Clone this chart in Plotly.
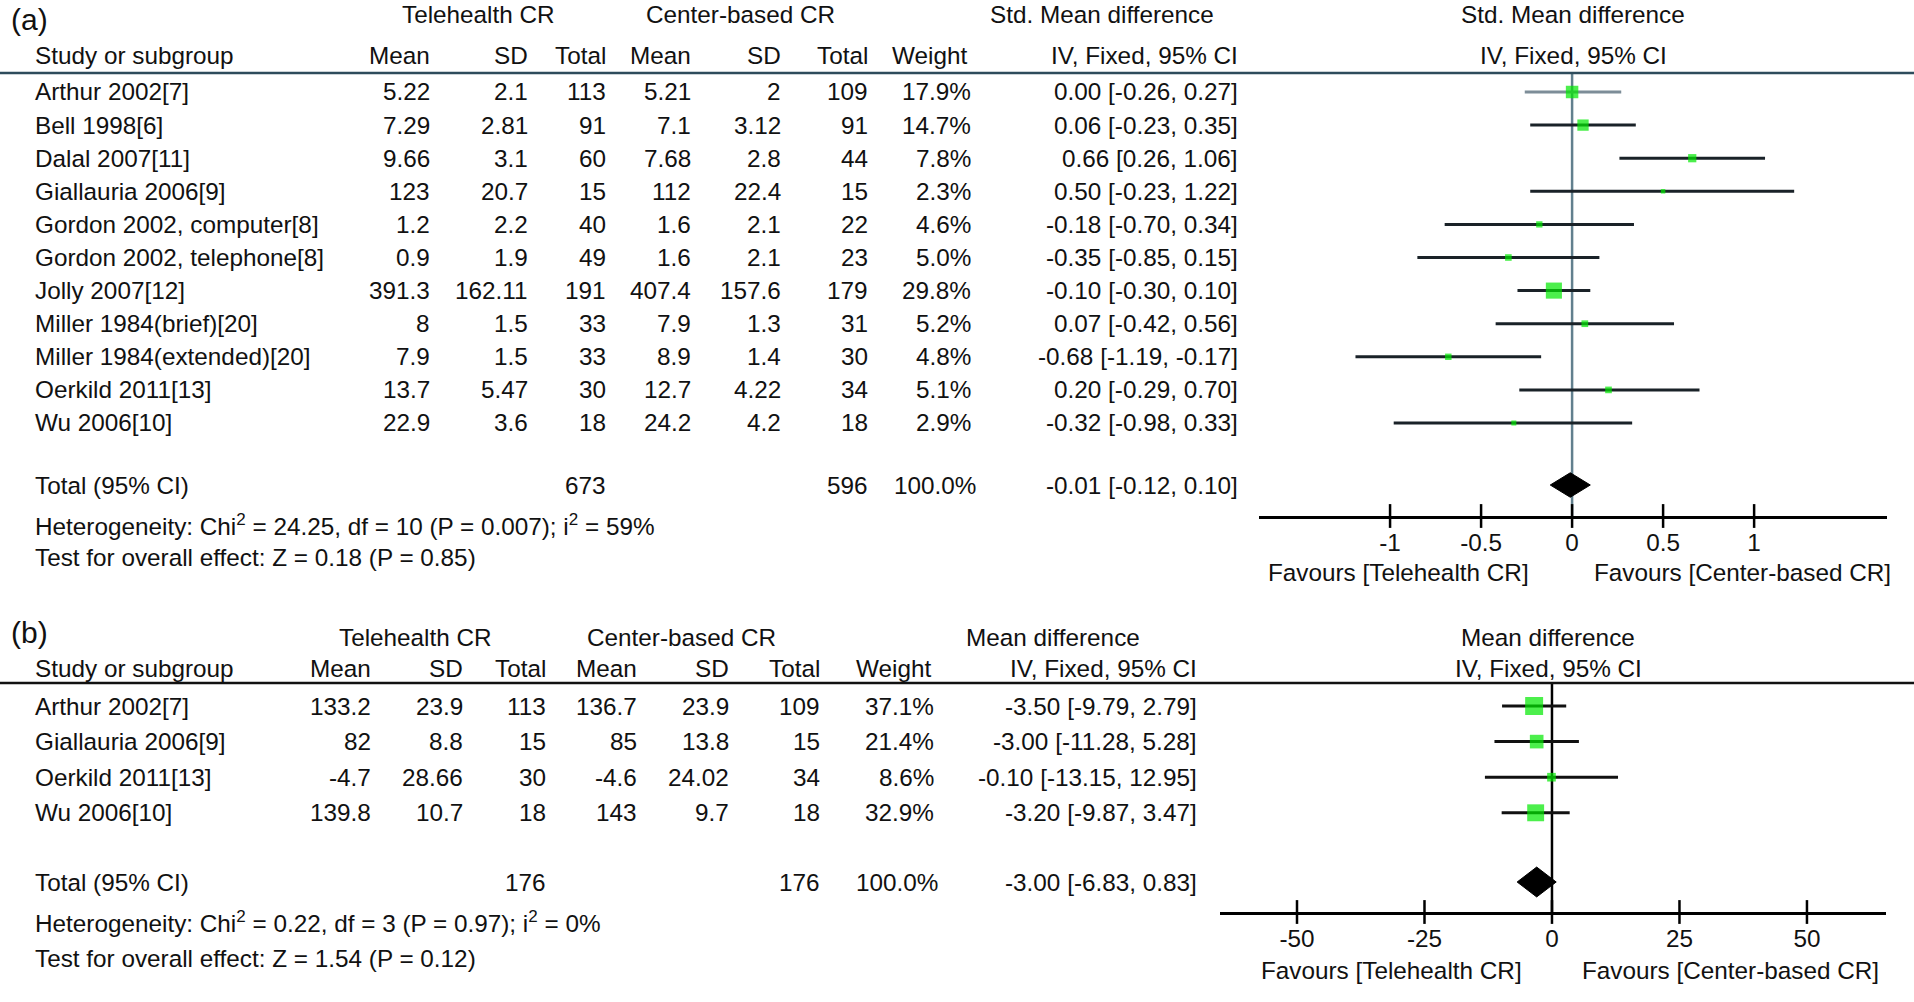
import math
import plotly.graph_objects as go

# ---------------- data: panel (a) ----------------
studies_a = ["Arthur 2002[7]", "Bell 1998[6]", "Dalal 2007[11]", "Giallauria 2006[9]",
             "Gordon 2002, computer[8]", "Gordon 2002, telephone[8]", "Jolly 2007[12]",
             "Miller 1984(brief)[20]", "Miller 1984(extended)[20]", "Oerkild 2011[13]", "Wu 2006[10]"]
tele_mean_a = [5.22, 7.29, 9.66, 123, 1.2, 0.9, 391.3, 8, 7.9, 13.7, 22.9]
tele_sd_a = [2.1, 2.81, 3.1, 20.7, 2.2, 1.9, 162.11, 1.5, 1.5, 5.47, 3.6]
tele_n_a = [113, 91, 60, 15, 40, 49, 191, 33, 33, 30, 18]
cb_mean_a = [5.21, 7.1, 7.68, 112, 1.6, 1.6, 407.4, 7.9, 8.9, 12.7, 24.2]
cb_sd_a = [2, 3.12, 2.8, 22.4, 2.1, 2.1, 157.6, 1.3, 1.4, 4.22, 4.2]
cb_n_a = [109, 91, 44, 15, 22, 23, 179, 31, 30, 34, 18]
weight_a = [17.9, 14.7, 7.8, 2.3, 4.6, 5.0, 29.8, 5.2, 4.8, 5.1, 2.9]
est_a = [0.00, 0.06, 0.66, 0.50, -0.18, -0.35, -0.10, 0.07, -0.68, 0.20, -0.32]
lo_a = [-0.26, -0.23, 0.26, -0.23, -0.70, -0.85, -0.30, -0.42, -1.19, -0.29, -0.98]
hi_a = [0.27, 0.35, 1.06, 1.22, 0.34, 0.15, 0.10, 0.56, -0.17, 0.70, 0.33]
total_tele_a, total_cb_a, total_weight_a = 673, 596, 100.0
total_est_a, total_lo_a, total_hi_a = -0.01, -0.12, 0.10
het_a = "Heterogeneity: Chi<sup>2</sup> = 24.25, df = 10 (P = 0.007); i<sup>2</sup> = 59%"
test_a = "Test for overall effect: Z = 0.18 (P = 0.85)"
ticks_a = [-1, -0.5, 0, 0.5, 1]
ticklabels_a = ["-1", "-0.5", "0", "0.5", "1"]

# ---------------- data: panel (b) ----------------
studies_b = ["Arthur 2002[7]", "Giallauria 2006[9]", "Oerkild 2011[13]", "Wu 2006[10]"]
tele_mean_b = [133.2, 82, -4.7, 139.8]
tele_sd_b = [23.9, 8.8, 28.66, 10.7]
tele_n_b = [113, 15, 30, 18]
cb_mean_b = [136.7, 85, -4.6, 143]
cb_sd_b = [23.9, 13.8, 24.02, 9.7]
cb_n_b = [109, 15, 34, 18]
weight_b = [37.1, 21.4, 8.6, 32.9]
est_b = [-3.50, -3.00, -0.10, -3.20]
lo_b = [-9.79, -11.28, -13.15, -9.87]
hi_b = [2.79, 5.28, 12.95, 3.47]
total_tele_b, total_cb_b, total_weight_b = 176, 176, 100.0
total_est_b, total_lo_b, total_hi_b = -3.00, -6.83, 0.83
het_b = "Heterogeneity: Chi<sup>2</sup> = 0.22, df = 3 (P = 0.97); i<sup>2</sup> = 0%"
test_b = "Test for overall effect: Z = 1.54 (P = 0.12)"
ticks_b = [-50, -25, 0, 25, 50]
ticklabels_b = ["-50", "-25", "0", "25", "50"]

# ---------------- layout helpers ----------------
W, H = 1914, 1002
FONT = "Liberation Sans, Arial, sans-serif"
FS = 24.3
TXT = "#111111"
GREEN = "#00e800"


def px(x):
    return x / W


def py(y):
    return 1 - y / H


def g(v):
    return f"{v:g}"


def ci(m, l, h):
    return f"{m:.2f} [{l:.2f}, {h:.2f}]"


fig = go.Figure()
ann = []


def text(x, y, s, anchor="left", size=FS):
    ann.append(dict(x=px(x), y=py(y), xref="paper", yref="paper", text=s,
                    showarrow=False, xanchor=anchor, yanchor="middle",
                    font=dict(family=FONT, size=size, color=TXT)))


def panel(spec):
    (xa, ya, rows_px0, row_step, top_px, bot_px, studies, tm, tsd, tn, cm, csd, cn, wt,
     est, lo, hi, tot, cols, titles, zero_col, rule_col, ci_cols, xdom, xrange,
     ticks, ticklabels, diam_h, tp) = spec
    n = len(studies)
    top_i = (top_px - rows_px0) / row_step
    bot_i = (bot_px - rows_px0) / row_step
    rows = list(range(n))
    tot_i = (tot["y"] - rows_px0) / row_step

    text(9, tp["lab_y"], tp["label"], "left", 30)
    for t, xc in titles:
        text(xc, tp["title_y"], t, "center")
    hdr = [("Study or subgroup", cols["study"], "left"), ("Mean", cols["m1"], "right"),
           ("SD", cols["s1"], "right"), ("Total", cols["n1"], "right"),
           ("Mean", cols["m2"], "right"), ("SD", cols["s2"], "right"),
           ("Total", cols["n2"], "right"), ("Weight", cols["wh"], "right"),
           ("IV, Fixed, 95% CI", cols["ci"], "right"), ("IV, Fixed, 95% CI", cols["plot"], "center")]
    for s, x, a in hdr:
        text(x, tp["hdr_y"], s, a)
    for i in range(n):
        yy = rows_px0 + row_step * i
        text(cols["study"], yy, studies[i], "left")
        text(cols["m1"], yy, g(tm[i]), "right")
        text(cols["s1"], yy, g(tsd[i]), "right")
        text(cols["n1"], yy, g(tn[i]), "right")
        text(cols["m2"], yy, g(cm[i]), "right")
        text(cols["s2"], yy, g(csd[i]), "right")
        text(cols["n2"], yy, g(cn[i]), "right")
        text(cols["w"], yy, f"{wt[i]:.1f}%", "right")
        text(cols["ci"], yy, ci(est[i], lo[i], hi[i]), "right")
    ty = tot["y"]
    text(cols["study"], ty, "Total (95% CI)", "left")
    text(cols["n1"], ty, g(tot["n1"]), "right")
    text(cols["n2"], ty, g(tot["n2"]), "right")
    text(cols["wt"], ty, f"{tot['w']:.1f}%", "right")
    text(cols["ci"], ty, ci(tot["est"], tot["lo"], tot["hi"]), "right")
    text(cols["study"], tp["het_y"], tp["het"], "left")
    text(cols["study"], tp["test_y"], tp["test"], "left")
    for s, xc in [("Favours [Telehealth CR]", tp["fav1"]), ("Favours [Center-based CR]", tp["fav2"])]:
        text(xc, tp["fav_y"], s, "center")

    fig.add_trace(go.Scatter(x=[0, 0], y=[top_i, bot_i], mode="lines", xaxis=xa, yaxis=ya,
                             line=dict(color=zero_col, width=2.5), hoverinfo="skip",
                             showlegend=False))
    for i in range(n):
        fig.add_trace(go.Scatter(x=[lo[i], hi[i]], y=[rows[i], rows[i]], mode="lines",
                                 xaxis=xa, yaxis=ya, line=dict(color=ci_cols[i], width=3),
                                 hoverinfo="skip", showlegend=False))
    fig.add_trace(go.Scatter(x=est, y=rows, mode="markers", xaxis=xa, yaxis=ya,
                             marker=dict(symbol="square", color=GREEN,
                                         size=[2.95 * math.sqrt(w) for w in wt],
                                         line=dict(width=0)),
                             showlegend=False))
    fig.add_trace(go.Scatter(x=[tot["lo"], tot["est"], tot["hi"], tot["est"], tot["lo"]],
                             y=[tot_i, tot_i - diam_h, tot_i, tot_i + diam_h, tot_i],
                             mode="lines", fill="toself", fillcolor="#000000",
                             line=dict(color="#000000", width=1), xaxis=xa, yaxis=ya,
                             showlegend=False))
    fig.add_trace(go.Scatter(x=ticks, y=[bot_i] * len(ticks), mode="markers", xaxis=xa, yaxis=ya,
                             marker=dict(symbol="line-ns", size=17,
                                         line=dict(color="#000000", width=2.5)),
                             cliponaxis=False, hoverinfo="skip", showlegend=False))
    xname = "xaxis" if xa == "x" else "xaxis" + xa[1:]
    yname = "yaxis" if ya == "y" else "yaxis" + ya[1:]
    fig.layout[xname] = dict(domain=[px(xdom[0]), px(xdom[1])], range=xrange, anchor=ya,
                             showline=True, linecolor="#000000", linewidth=2.5,
                             showgrid=False, zeroline=False, tickvals=ticks, ticktext=ticklabels,
                             ticks="outside", ticklen=3, tickcolor="rgba(0,0,0,0)",
                             tickfont=dict(family=FONT, size=FS, color=TXT), fixedrange=True)
    fig.layout[yname] = dict(domain=[py(bot_px), py(top_px)], range=[bot_i, top_i], anchor=xa,
                             visible=False, fixedrange=True)
    fig.add_shape(type="line", xref="paper", yref="paper", x0=0, x1=1, y0=py(top_px),
                  y1=py(top_px), line=dict(color=rule_col, width=2.5))


cols_a = dict(study=33, m1=432, s1=530, n1=608, m2=693, s2=783, n2=870, wh=969, w=973,
              wt=978, ci=1240, plot=1573)
spec_a = ("x", "y", 92, 33.1, 73, 516, studies_a, tele_mean_a, tele_sd_a, tele_n_a,
          cb_mean_a, cb_sd_a, cb_n_a, weight_a, est_a, lo_a, hi_a,
          dict(y=485, n1=total_tele_a, n2=total_cb_a, w=total_weight_a,
               est=total_est_a, lo=total_lo_a, hi=total_hi_a),
          cols_a,
          [("Telehealth CR", 478), ("Center-based CR", 740), ("Std. Mean difference", 1102),
           ("Std. Mean difference", 1573)],
          "#62808e", "#2e4c5c", ["#7d8d98"] + ["#1a2228"] * 10,
          (1259, 1887), [-1.72, 1.73], ticks_a, ticklabels_a, 0.37,
          dict(label="(a)", lab_y=20, title_y=15, hdr_y=55, het_y=525, test_y=557,
               het=het_a, test=test_a, fav1=1398, fav2=1742, fav_y=572))

cols_b = dict(study=33, m1=373, s1=465, n1=548, m2=639, s2=731, n2=822, wh=933, w=936,
              wt=940, ci=1199, plot=1548)
spec_b = ("x2", "y2", 706, 35.6, 683, 912, studies_b, tele_mean_b, tele_sd_b, tele_n_b,
          cb_mean_b, cb_sd_b, cb_n_b, weight_b, est_b, lo_b, hi_b,
          dict(y=882, n1=total_tele_b, n2=total_cb_b, w=total_weight_b,
               est=total_est_b, lo=total_lo_b, hi=total_hi_b),
          cols_b,
          [("Telehealth CR", 415), ("Center-based CR", 681), ("Mean difference", 1053),
           ("Mean difference", 1548)],
          "#000000", "#111111", ["#111111"] * 4,
          (1220, 1886), [-65.1, 65.5], ticks_b, ticklabels_b, 0.42,
          dict(label="(b)", lab_y=632, title_y=637, hdr_y=668, het_y=922, test_y=958,
               het=het_b, test=test_b, fav1=1391, fav2=1730, fav_y=970))

panel(spec_a)
panel(spec_b)

fig.update_layout(width=W, height=H, margin=dict(l=0, r=0, t=0, b=0, pad=0),
                  paper_bgcolor="#ffffff", plot_bgcolor="rgba(0,0,0,0)",
                  showlegend=False, annotations=ann,
                  font=dict(family=FONT, size=FS, color=TXT))

fig.write_html("out.html", post_script="document.body.style.margin='0';",
               config={"displayModeBar": False})
